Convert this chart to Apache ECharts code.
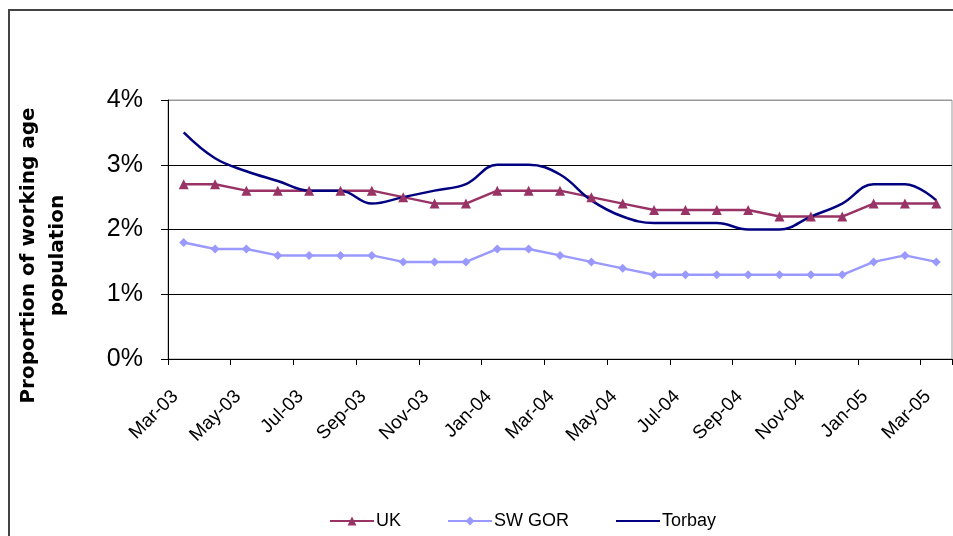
<!DOCTYPE html>
<html>
<head>
<meta charset="utf-8">
<script src="https://cdn.jsdelivr.net/npm/echarts@6/dist/echarts.min.js"></script>
<style>
  html, body { margin: 0; padding: 0; background: #fff; }
  #chart { width: 953px; height: 536px; }
</style>
</head>
<body>
<div id="chart"></div>
<script>
var months = ['Mar-03', 'Apr-03', 'May-03', 'Jun-03', 'Jul-03', 'Aug-03', 'Sep-03', 'Oct-03', 'Nov-03', 'Dec-03',
              'Jan-04', 'Feb-04', 'Mar-04', 'Apr-04', 'May-04', 'Jun-04', 'Jul-04', 'Aug-04', 'Sep-04', 'Oct-04',
              'Nov-04', 'Dec-04', 'Jan-05', 'Feb-05', 'Mar-05'];

// proportion of working age population, %
var uk     = [2.7, 2.7, 2.6, 2.6, 2.6, 2.6, 2.6, 2.5, 2.4, 2.4, 2.6, 2.6, 2.6, 2.5, 2.4, 2.3, 2.3, 2.3, 2.3, 2.2, 2.2, 2.2, 2.4, 2.4, 2.4];
var swGor  = [1.8, 1.7, 1.7, 1.6, 1.6, 1.6, 1.6, 1.5, 1.5, 1.5, 1.7, 1.7, 1.6, 1.5, 1.4, 1.3, 1.3, 1.3, 1.3, 1.3, 1.3, 1.3, 1.5, 1.6, 1.5];
var torbay = [3.5, 3.1, 2.9, 2.75, 2.6, 2.6, 2.4, 2.5, 2.6, 2.7, 3.0, 3.0, 2.85, 2.45, 2.2, 2.1, 2.1, 2.1, 2.0, 2.0, 2.2, 2.4, 2.7, 2.7, 2.45];

var yTicks = [0, 1, 2, 3, 4];

var chart = echarts.init(document.getElementById('chart'));

var option = {
    animation: false,
    backgroundColor: '#fff',
    graphic: [
        {
            type: 'rect',
            shape: { x: 9, y: 10, width: 1000, height: 600 },
            style: { fill: 'none', stroke: '#444', lineWidth: 2 },
            silent: true
        }
    ],
    grid: {
        left: 168,
        right: 1,
        top: 100,
        bottom: 177,
        show: true,
        borderColor: '#999',
        borderWidth: 1,
        backgroundColor: '#fff'
    },
    legend: {
        left: 324,
        top: 507,
        itemWidth: 44,
        itemHeight: 11,
        itemGap: 46,
        textStyle: { fontFamily: 'Liberation Sans', fontSize: 18, color: '#000', padding: [0, 0, 0, -3] },
        data: ['UK', 'SW GOR', { name: 'Torbay', itemStyle: { opacity: 0 } }]
    },
    xAxis: {
        type: 'category',
        data: months,
        boundaryGap: true,
        axisLine: { lineStyle: { color: '#000', width: 1 } },
        axisTick: { show: true, interval: 1, length: 6, lineStyle: { color: '#000' } },
        axisLabel: {
            interval: 1,
            rotate: 45,
            margin: 26,
            padding: [0, 12, 0, 0],
            fontFamily: 'Liberation Sans',
            fontSize: 19,
            color: '#000'
        },
        splitLine: { show: false }
    },
    yAxis: {
        type: 'value',
        min: yTicks[0],
        max: yTicks[yTicks.length - 1],
        interval: 1,
        name: 'Proportion of working age\npopulation',
        nameLocation: 'middle',
        nameGap: 96,
        nameTextStyle: {
            fontFamily: 'DejaVu Sans',
            fontWeight: 'bold',
            fontSize: 20,
            lineHeight: 29,
            color: '#000',
            align: 'center',
            padding: [0, 52, 0, 0]
        },
        axisLine: { show: true, lineStyle: { color: '#000', width: 1 } },
        axisTick: { show: true, length: 7, lineStyle: { color: '#000' } },
        axisLabel: {
            formatter: '{value}%',
            margin: 25,
            fontFamily: 'Liberation Sans',
            fontSize: 25,
            color: '#000'
        },
        splitLine: {
            show: true,
            lineStyle: { color: ['#888', '#000', '#000', '#000', '#999'], width: 1 }
        }
    },
    series: [
        {
            name: 'UK',
            type: 'line',
            data: uk,
            symbol: 'triangle',
            symbolSize: 10,
            itemStyle: { color: '#993366' },
            lineStyle: { color: '#993366', width: 2.5 }
        },
        {
            name: 'SW GOR',
            type: 'line',
            data: swGor,
            symbol: 'diamond',
            symbolSize: 9,
            itemStyle: { color: '#9999FF' },
            lineStyle: { color: '#9999FF', width: 2.5 }
        },
        {
            name: 'Torbay',
            type: 'line',
            data: torbay,
            symbol: 'none',
            smooth: 0.4,
            itemStyle: { color: '#000080' },
            lineStyle: { color: '#000080', width: 2.5 }
        }
    ]
};

chart.setOption(option);
</script>
</body>
</html>
